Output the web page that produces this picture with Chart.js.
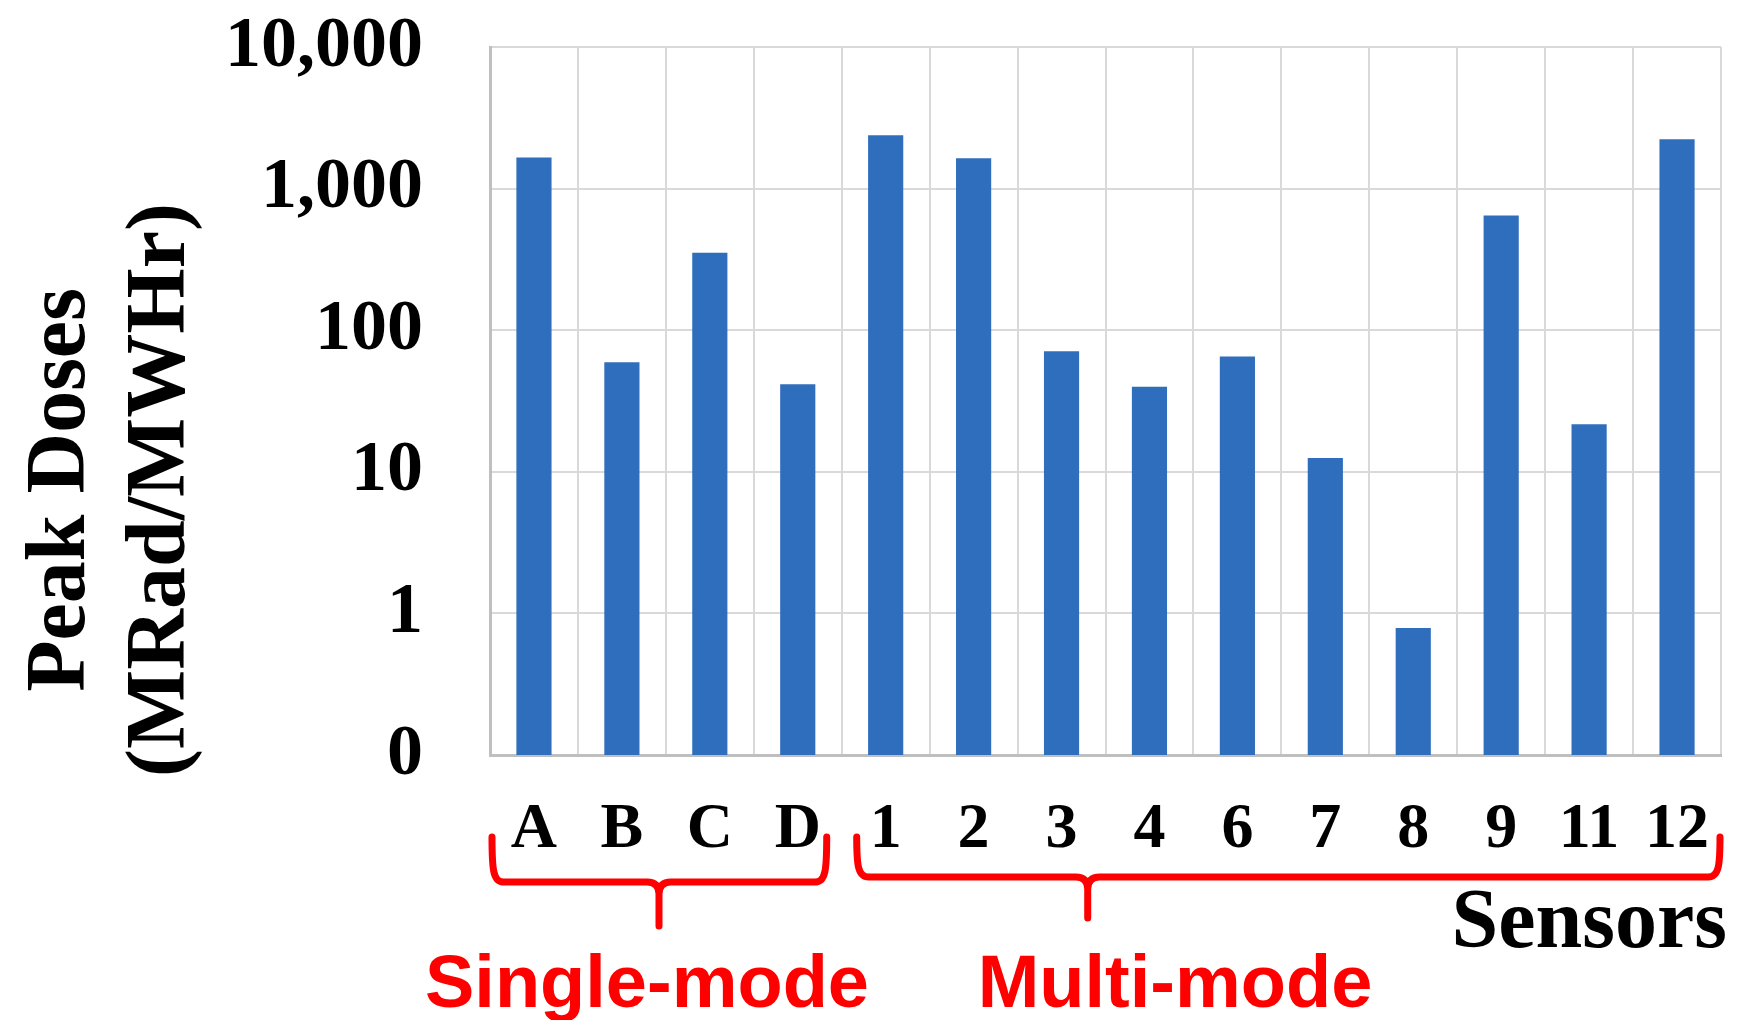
<!DOCTYPE html>
<html>
<head>
<meta charset="utf-8">
<title>Peak Doses by Sensor</title>
<script src="https://cdn.jsdelivr.net/npm/chart.js@4/dist/chart.umd.min.js"></script>
<style>
  html, body { margin: 0; padding: 0; background: #ffffff; }
  #wrap { width: 1742px; height: 1020px; position: relative; }
  canvas { display: block; }
</style>
</head>
<body>
<div id="wrap"><canvas id="chart" width="1742" height="1020"></canvas></div>
<script>
// Sensor names along the category axis
const sensors = ['A', 'B', 'C', 'D', '1', '2', '3', '4', '6', '7', '8', '9', '11', '12'];
// Peak dose per sensor, MRad/MWHr
const peakDoses = [1655, 59.4, 353, 41.6, 2382, 1639, 71.1, 39.8, 65.1, 12.5, 0.79, 645, 21.7, 2232];
// Decade ticks on the log axis and their printed labels
const doseTicks = [0.1, 1, 10, 100, 1000, 10000];
const doseTickLabels = ['0', '1', '10', '100', '1,000', '10,000'];
// Fibre groups: name, first and last sensor index in each group
const groupNames = ['Single-mode', 'Multi-mode'];
const groupFirst = [0, 4];
const groupLast = [3, 13];

const SERIF = "'Liberation Serif', 'Times New Roman', serif";
const SANS = "'Liberation Sans', Arial, sans-serif";
const RED = '#ff0000';

// Bracket under a run of categories, with a short stem pointing at the group name
function drawBrace(ctx, x0, x1, top, h, tipX, tipY, r) {
  ctx.beginPath();
  ctx.moveTo(x0, top);
  ctx.bezierCurveTo(x0, h - r, x0 + 1, h, x0 + r, h);
  ctx.lineTo(tipX - r, h);
  ctx.quadraticCurveTo(tipX, h, tipX, h + r);
  ctx.lineTo(tipX, tipY);
  ctx.moveTo(tipX, h + r);
  ctx.quadraticCurveTo(tipX, h, tipX + r, h);
  ctx.lineTo(x1 - r, h);
  ctx.bezierCurveTo(x1 - 1, h, x1, h - r, x1, top);
  ctx.stroke();
}

const annotations = {
  id: 'annotations',
  afterDraw(chart) {
    const ctx = chart.ctx;
    const xs = chart.scales.x;
    const step = (xs.right - xs.left) / sensors.length;
    const edge = (i) => xs.left + i * step;

    ctx.save();

    // Y-axis title, two rotated lines
    ctx.fillStyle = '#000';
    ctx.font = 'bold 84px ' + SERIF;
    ctx.textAlign = 'center';
    ctx.textBaseline = 'alphabetic';
    const titleLines = [['Peak Doses', 84], ['(MRad/MWHr)', 184]];
    titleLines.forEach(([txt, bx]) => {
      ctx.save();
      ctx.translate(bx, 490);
      ctx.rotate(-Math.PI / 2);
      ctx.fillText(txt, 0, 0);
      ctx.restore();
    });

    // X-axis title
    ctx.textAlign = 'right';
    ctx.fillText('Sensors', 1727, 947);

    // Group brackets
    ctx.strokeStyle = RED;
    ctx.lineWidth = 7;
    ctx.lineCap = 'round';
    ctx.lineJoin = 'round';
    const s0 = edge(groupFirst[0]) + 2;
    const s1 = edge(groupLast[0] + 1) - 15;
    drawBrace(ctx, s0, s1, 837, 882, s0 + 167, 926, 12);
    const m0 = edge(groupFirst[1]) + 15;
    const m1 = edge(groupLast[1] + 1) - 1;
    drawBrace(ctx, m0, m1, 837, 877, m0 + 231, 918, 12);

    // Group names
    ctx.fillStyle = RED;
    ctx.font = 'bold 74px ' + SANS;
    ctx.textAlign = 'center';
    ctx.fillText(groupNames[0], 647, 1007);
    ctx.fillText(groupNames[1], 1175, 1007);

    ctx.restore();
  }
};

new Chart(document.getElementById('chart'), {
  type: 'bar',
  data: {
    labels: sensors,
    datasets: [{
      label: 'Peak Doses',
      data: peakDoses,
      backgroundColor: '#2f6ebd',
      borderWidth: 0,
      barPercentage: 0.4,
      categoryPercentage: 1.0
    }]
  },
  options: {
    responsive: false,
    animation: false,
    devicePixelRatio: 1,
    layout: { padding: { top: 47, right: 21, bottom: 0, left: 0 } },
    plugins: {
      legend: { display: false },
      tooltip: { enabled: false }
    },
    scales: {
      x: {
        offset: true,
        grid: {
          offset: true,
          color: '#d9d9d9',
          lineWidth: 2,
          drawTicks: true,
          tickLength: 37,
          tickColor: 'rgba(0,0,0,0)'
        },
        border: { color: '#bfbfbf', width: 3 },
        ticks: {
          color: '#000',
          padding: 0,
          maxRotation: 0,
          autoSkip: false,
          font: { family: SERIF, size: 64, weight: 'bold' }
        },
        afterFit(scale) { scale.height = 265; }
      },
      y: {
        type: 'logarithmic',
        min: 0.1,
        max: 10000,
        grid: {
          color: '#d9d9d9',
          lineWidth: 2,
          drawTicks: true,
          tickLength: 67,
          tickColor: 'rgba(0,0,0,0)'
        },
        border: { color: '#bfbfbf', width: 3 },
        ticks: {
          color: '#000',
          padding: 0,
          autoSkip: false,
          font: { family: SERIF, size: 72, weight: 'bold' },
          callback(value) {
            const i = doseTicks.findIndex(t => Math.abs(t - value) / t < 1e-6);
            return i >= 0 ? doseTickLabels[i] : '';
          }
        },
        afterBuildTicks(scale) {
          scale.ticks = doseTicks.map(v => ({ value: v }));
        },
        afterFit(scale) { scale.width = 490; }
      }
    }
  },
  plugins: [annotations]
});
</script>
</body>
</html>
